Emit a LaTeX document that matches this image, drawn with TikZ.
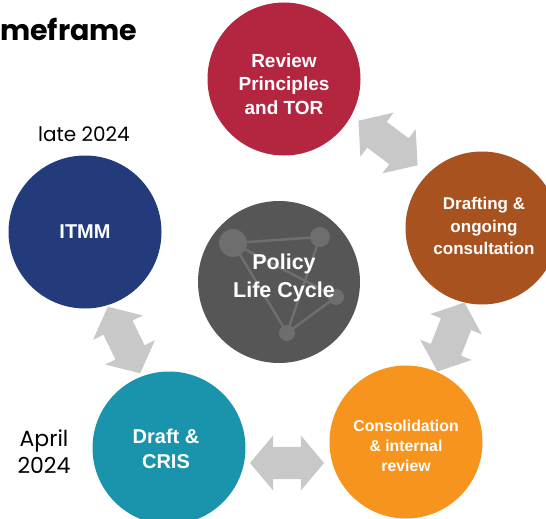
\documentclass[tikz,border=0pt]{standalone}
\usepackage{fontspec}
\setmainfont{Liberation Sans}
\newfontfamily\poppins{Poppins}
\usetikzlibrary{shapes.arrows}
\definecolor{reviewred}{HTML}{B4253F}
\definecolor{draftbrown}{HTML}{A7521F}
\definecolor{consorange}{HTML}{F7941D}
\definecolor{cristeal}{HTML}{1A94AD}
\definecolor{itmmnavy}{HTML}{233B7B}
\definecolor{policygray}{HTML}{565656}
\definecolor{netgray}{HTML}{6E6E6E}
\definecolor{linkgray}{HTML}{C8C8C8}
\tikzset{
	stagestyle/.style={circle,minimum size=153pt,inner sep=0pt},
	stagetext/.style={text=white,align=center,inner sep=0pt},
	linkstyle/.style={double arrow,fill=linkgray,inner sep=0pt,text height=16pt,text depth=16pt,
		minimum height=74pt,double arrow head extend=11.5pt,double arrow tip angle=100},
	netstyle/.style={circle,fill=netgray,inner sep=0pt},
	datestyle/.style={font=\poppins\fontsize{20}{27}\selectfont,align=center}
}

\begin{document}
\begin{tikzpicture}[x=1pt,y=-1pt]
		\useasboundingbox (0,0) rectangle (546,519);
		\clip (0,0) rectangle (546,519);
		% stages of the cycle
		\node[stagestyle,fill=reviewred] (review) at (284,79) {};
		\node[stagestyle,fill=draftbrown] (drafting) at (482,228) {};
		\node[stagestyle,fill=consorange] (consol) at (406,442) {};
		\node[stagestyle,fill=cristeal] (cris) at (169,448) {};
		\node[stagestyle,fill=itmmnavy] (itmm) at (85,232) {};
		\node[stagetext,font=\bfseries\fontsize{19}{23.5}\selectfont] (reviewtext) at ([yshift=-5pt]review.center) {Review\\Principles\\and TOR};
		\node[stagetext,font=\bfseries\fontsize{17}{22.5}\selectfont] (draftingtext) at ([xshift=2pt,yshift=2pt]drafting.center) {Drafting \&\\ongoing\\consultation};
		\node[stagetext,font=\bfseries\fontsize{15.8}{20}\selectfont] (consoltext) at ([yshift=-4pt]consol.center) {Consolidation\\\& internal\\review};
		\node[stagetext,font=\bfseries\fontsize{20}{25}\selectfont] (cristext) at ([xshift=-3pt,yshift=-1pt]cris.center) {Draft \&\\CRIS};
		\node[stagetext,font=\bfseries\fontsize{20}{26}\selectfont] (itmmtext) at (itmm.center) {ITMM};
		% centre
		\node[circle,minimum size=162pt,fill=policygray] (policy) at (279,282) {};
		\node[netstyle,minimum size=28pt] (pn1) at (233,243) {};
		\node[netstyle,minimum size=20pt] (pn2) at (320,237) {};
		\node[netstyle,minimum size=16pt] (pn3) at (336,297) {};
		\node[netstyle,minimum size=16pt] (pn4) at (287,333) {};
		\draw[netgray,line width=2.5pt] (pn1.center)--(pn2.center)--(pn4.center)--(pn1.center)--(pn3.center)--(pn4.center);
		\node[text=white,font=\bfseries\fontsize{21.5}{28}\selectfont,align=center] (policytext) at (284,278) {Policy\\Life Cycle};
		% links
		\node[linkstyle,rotate=-37] (link1) at (388,143) {};
		\node[linkstyle,rotate=68.6] (link2) at (451,337) {};
		\node[linkstyle] (link3) at (287,463) {};
		\node[linkstyle,rotate=-64] (link4) at (124,340) {};
		% labels
		\node[anchor=base west,inner sep=0pt,font=\poppins\bfseries\fontsize{28.5}{30}\selectfont] (title) at (0,41) {meframe};
		\node[datestyle] (late) at (84,134) {late 2024};
		\node[datestyle,font=\poppins\fontsize{22}{27}\selectfont] (april) at (44,452) {April\\2024};
\end{tikzpicture}
\end{document}
